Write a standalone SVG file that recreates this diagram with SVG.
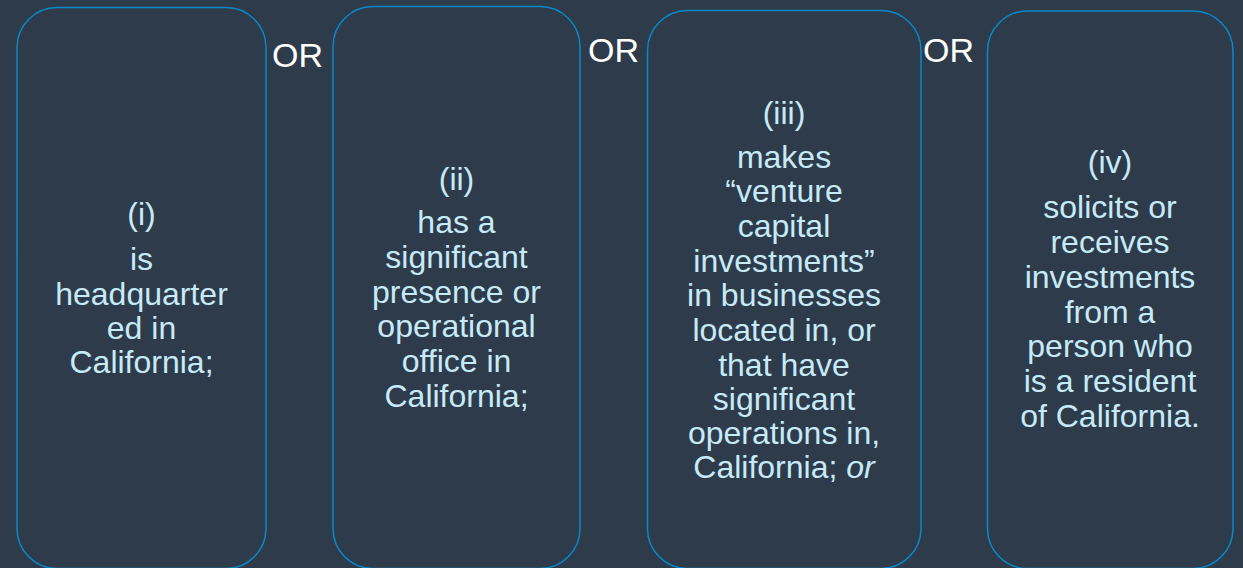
<svg xmlns="http://www.w3.org/2000/svg" width="1243" height="568" viewBox="0 0 1243 568">
<style>
.box{fill:none;stroke:#0a88c8;stroke-width:1.5}
.t{font-family:"Liberation Sans",Arial,sans-serif;font-size:32px;fill:#c7eaf8;text-anchor:middle}
.or{font-family:"Liberation Sans",Arial,sans-serif;font-size:34px;fill:#ffffff}
</style>
<rect width="1243" height="568" fill="#2e3b4a"/>
<g id="node1">
<rect class="box" x="17" y="7.5" width="249" height="561" rx="40"/>
<text class="t"><tspan x="141.5" y="225">(i)</tspan><tspan x="141.5" y="270">is</tspan><tspan x="141.5" y="305">headquarter</tspan><tspan x="141.5" y="339">ed in</tspan><tspan x="141.5" y="373">California;</tspan></text>
</g>
<g id="node2">
<rect class="box" x="333" y="6.5" width="247" height="562" rx="40"/>
<text class="t"><tspan x="456.5" y="190">(ii)</tspan><tspan x="456.5" y="233">has a</tspan><tspan x="456.5" y="268">significant</tspan><tspan x="456.5" y="303">presence or</tspan><tspan x="456.5" y="337">operational</tspan><tspan x="456.5" y="372">office in</tspan><tspan x="456.5" y="407">California;</tspan></text>
</g>
<g id="node3">
<rect class="box" x="647.5" y="10.5" width="273.5" height="558" rx="40"/>
<text class="t"><tspan x="784" y="124">(iii)</tspan><tspan x="784" y="168">makes</tspan><tspan x="784" y="202">“venture</tspan><tspan x="784" y="237">capital</tspan><tspan x="784" y="272">investments”</tspan><tspan x="784" y="306">in businesses</tspan><tspan x="784" y="341">located in, or</tspan><tspan x="784" y="376">that have</tspan><tspan x="784" y="410">significant</tspan><tspan x="784" y="444">operations in,</tspan><tspan x="784" y="478">California; <tspan font-style="italic">or</tspan></tspan></text>
</g>
<g id="node4">
<rect class="box" x="987.5" y="11" width="245.5" height="557.5" rx="40"/>
<text class="t"><tspan x="1110" y="173">(iv)</tspan><tspan x="1110" y="218">solicits or</tspan><tspan x="1110" y="253">receives</tspan><tspan x="1110" y="288">investments</tspan><tspan x="1110" y="323">from a</tspan><tspan x="1110" y="357">person who</tspan><tspan x="1110" y="392">is a resident</tspan><tspan x="1110" y="427">of California.</tspan></text>
</g>
<g id="connectors">
<text class="or" x="272" y="67">OR</text>
<text class="or" x="588" y="62">OR</text>
<text class="or" x="923" y="62">OR</text>
</g>
</svg>
